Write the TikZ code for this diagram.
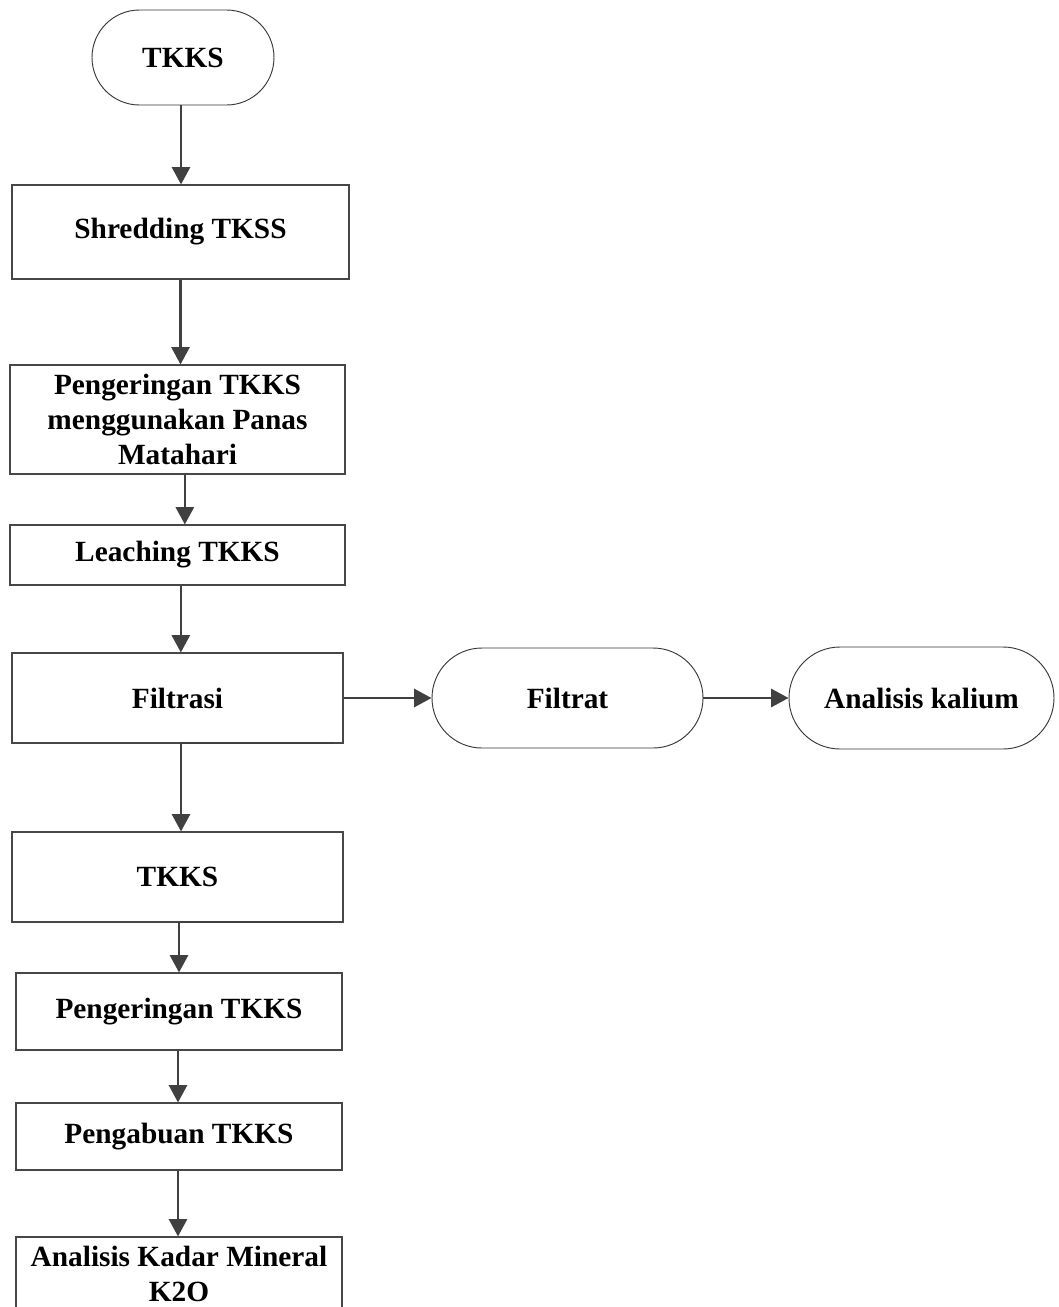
\documentclass[tikz,border=0pt]{standalone}
\usepackage{fontspec}
\setmainfont{Liberation Serif}
\usetikzlibrary{arrows.meta,shapes.misc}
\begin{document}
\begin{tikzpicture}[x=0.75pt,y=-0.75pt,
 lbl/.style={font=\fontsize{22}{26}\selectfont\bfseries, align=center, inner sep=0pt},
 proc/.style={lbl, draw=black!72, line width=0.8pt, fill=white},
 term/.style={lbl, rounded rectangle, draw=black!78, line width=0.7pt, fill=white},
 arr/.style={draw=black!75, line width=2pt, -{Triangle[length=13pt,width=13.5pt]}},
 seg/.style={draw=black!75, line width=2pt}]
\useasboundingbox (0,0) rectangle (1058,1307);

\node[term, minimum width=136.5pt, minimum height=71.25pt] (tk1) at (183,57.5) {TKKS};
\node[proc, minimum width=252.75pt, minimum height=70.5pt] (shred) at (180.5,232) {Shredding TKSS};
\node[proc, minimum width=251.25pt, minimum height=81.75pt] (peng1) at (177.5,419.5) {Pengeringan TKKS\\menggunakan Panas\\Matahari};
\node[proc, minimum width=251.25pt, minimum height=45pt] (leach) at (177.5,555) {Leaching TKKS};
\node[proc, minimum width=248.25pt, minimum height=67.5pt] (filt) at (177.5,698) {Filtrasi};
\node[term, minimum width=203.25pt, minimum height=75pt] (filtrat) at (567.5,698) {Filtrat};
\node[term, minimum width=198.75pt, minimum height=76.5pt] (kal) at (921.5,698) {Analisis kalium};
\node[proc, minimum width=248.25pt, minimum height=67.5pt] (tk2) at (177.5,877) {TKKS};
\node[proc, minimum width=244.5pt, minimum height=57.75pt] (peng2) at (179,1011.5) {Pengeringan TKKS};
\node[proc, minimum width=244.5pt, minimum height=50.25pt] (abu) at (179,1136.5) {Pengabuan TKKS};
\node[proc, minimum width=244.5pt, minimum height=55.5pt] (anal) at (179,1274) {Analisis Kadar Mineral\\K2O};

\draw[arr] ([xshift=-1.5pt]tk1.south) -- ([xshift=-1.5pt]tk1.south |- shred.north);
\draw[arr] (shred.south) -- (shred.south |- peng1.north);
\draw[arr] ([xshift=5.5pt]peng1.south) -- ([xshift=5.5pt]peng1.south |- leach.north);
\draw[arr] ([xshift=2.5pt]leach.south) -- ([xshift=2.5pt]leach.south |- filt.north);
\draw[arr] (filt.east) -- (filtrat.west);
\draw[arr] (filtrat.east) -- (kal.west);

\coordinate (f1) at (333,743);
\coordinate (f2) at (181,743);
\draw[seg] (f1) -- (f2);
\draw[arr] (f2) -- (f2 |- tk2.north);

\coordinate (t1) at (331,922);
\coordinate (t2) at (179,922);
\draw[seg] (t1) -- (t2);
\draw[arr] (t2) -- (t2 |- peng2.north);

\draw[arr] ([xshift=-0.75pt]peng2.south) -- ([xshift=-0.75pt]peng2.south |- abu.north);
\draw[arr] ([xshift=-0.75pt]abu.south) -- ([xshift=-0.75pt]abu.south |- anal.north);
\end{tikzpicture}
\end{document}
